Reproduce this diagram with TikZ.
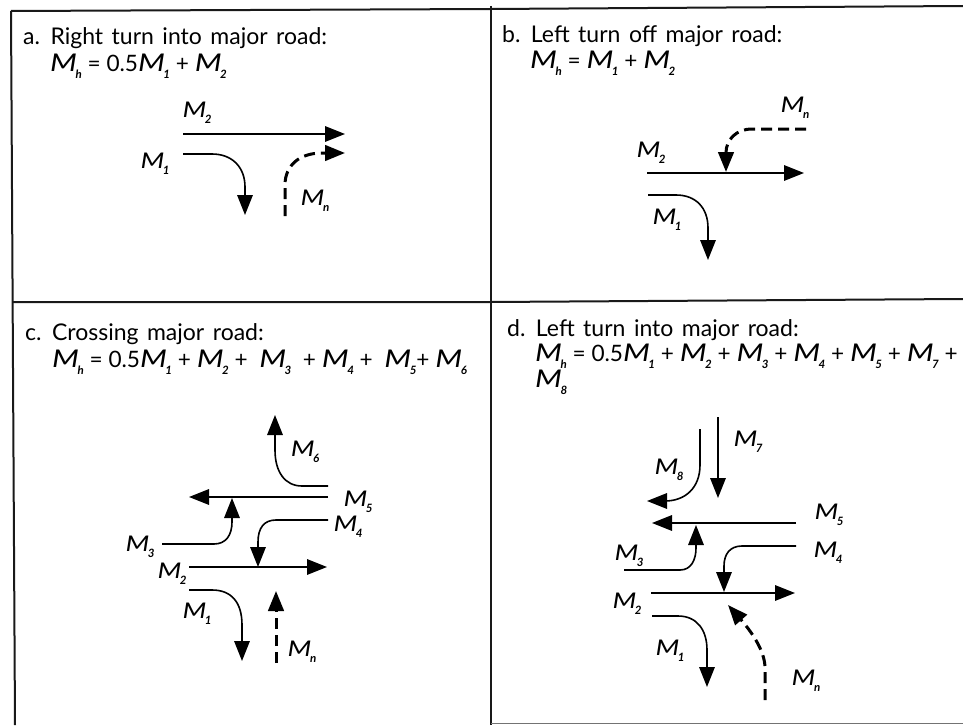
\documentclass[tikz,border=0pt]{standalone}
\usepackage{fontspec}
\setmainfont{Lato}
\usetikzlibrary{arrows.meta}
\newcommand{\Mv}[1]{\scalebox{1.38}[1.08]{\textit{M}}\kern-1.5pt\raisebox{-0.32em}{\fontsize{11.5}{12}\selectfont\textbf{\textit{#1}}}}
\newcommand{\wideword}{\spaceskip 8.5pt\relax}
\tikzset{
  x=1pt,y=-1pt,
  frameline/.style={line width=2pt,black!90},
  road/.style={line width=1.6pt,-{Triangle[length=20pt,width=15.5pt]}},
  newroad/.style={line width=3pt,dash pattern=on 11pt off 6pt,-{Triangle[length=20pt,width=15.5pt]}},
  lab/.style={inner sep=0pt,font=\fontsize{20}{22}\selectfont},
  txt/.style={inner sep=0pt,anchor=base west,font=\fontsize{22.6}{24}\selectfont},
  ttl/.style={inner sep=0pt,anchor=base west,font=\fontsize{23}{24}\selectfont},
}
\begin{document}
\begin{tikzpicture}
\useasboundingbox (0,0) rectangle (963,725);
% frame
\draw[frameline] (11,11) -- (490,9) -- (963,6);
\draw[frameline] (11,11) -- (15,725);
\draw[frameline] (491,6) -- (491,725);
\draw[frameline] (13,302) -- (490,302) -- (963,299);
\draw[line width=0.8pt,black!55] (491,723) -- (963,723);

% panel a
\node[ttl] (ta) at (23,45) {\wideword a. Right turn into major road:};
\node[txt] (ea) at (50,71) {\Mv{h} = 0.5\Mv{1} + \Mv{2}};
\node[lab] (a2) at (197,113) {\Mv{2}};
\node[lab] (a1) at (155,164) {\Mv{1}};
\node[lab] (an) at (315,201) {\Mv{n}};
\draw[road] (183,134) -- (345,134);
\draw[road] (183,154) -- (212,154) .. controls (232,154) and (245,167) .. (245,187) -- (245,215);
\draw[newroad] (285,216) -- (285,185) .. controls (285,165) and (300,153) .. (322,153) -- (345,153);

% panel b
\node[ttl] (tb) at (502,42) {\wideword b. Left turn off major road:};
\node[txt] (eb) at (530,68) {\Mv{h} = \Mv{1} + \Mv{2}};
\node[lab] (b2) at (651,153) {\Mv{2}};
\node[lab] (bn) at (795,108) {\Mv{n}};
\node[lab] (b1) at (667,220) {\Mv{1}};
\draw[road] (647,173) -- (804,173);
\draw[road] (648,195) -- (676,195) .. controls (696,195) and (708,208) .. (708,228) -- (708,260);
\draw[newroad] (806,129) -- (752,129) .. controls (736,129) and (726,140) .. (726,172);

% panel c
\node[ttl] (tc) at (25,340) {\wideword c. Crossing major road:};
\node[txt] (ec) at (52,367) {\Mv{h} = 0.5\Mv{1} + \Mv{2} +\ \ \Mv{3}\ \ + \Mv{4} +\ \ \Mv{5}+ \Mv{6}};
\node[lab] (c6) at (305,452) {\Mv{6}};
\node[lab] (c5) at (358,502) {\Mv{5}};
\node[lab] (c4) at (348,527) {\Mv{4}};
\node[lab] (c3) at (140,547) {\Mv{3}};
\node[lab] (c2) at (172,574) {\Mv{2}};
\node[lab] (c1) at (197,614) {\Mv{1}};
\node[lab] (cn) at (302,652) {\Mv{n}};
\draw[road] (328,486) -- (302,486) .. controls (285,486) and (275,472) .. (275,450) -- (275,415);
\draw[road] (328,497) -- (189,497);
\draw[road] (162,544) -- (214,544) .. controls (226,544) and (232,535) .. (232,522) -- (232,498);
\draw[road] (328,520) -- (276,520) .. controls (264,520) and (258,528) .. (258,542) -- (258,567);
\draw[road] (189,567) -- (327,567);
\draw[road] (189,590) -- (212,590) .. controls (232,590) and (242,603) .. (242,625) -- (242,661);
\draw[newroad] (276,663) -- (276,591);

% panel d
\node[ttl] (td) at (507,336) {\wideword d. Left turn into major road:};
\node[txt] (ed) at (535,361) {\Mv{h} = 0.5\Mv{1} + \Mv{2} + \Mv{3} + \Mv{4} + \Mv{5} + \Mv{7} +};
\node[txt] (ed2) at (535,387) {\Mv{8}};
\node[lab] (d7) at (748,442) {\Mv{7}};
\node[lab] (d8) at (669,470) {\Mv{8}};
\node[lab] (d5) at (829,515) {\Mv{5}};
\node[lab] (d4) at (828,553) {\Mv{4}};
\node[lab] (d3) at (629,556) {\Mv{3}};
\node[lab] (d2) at (627,604) {\Mv{2}};
\node[lab] (d1) at (670,651) {\Mv{1}};
\node[lab] (dn) at (806,681) {\Mv{n}};
\draw[road] (718,417) -- (718,498);
\draw[road] (700,429) -- (700,465) .. controls (700,488) and (685,501) .. (665,501) -- (647,501);
\draw[road] (796,523) -- (652,523);
\draw[road] (624,570) -- (680,570) .. controls (691,570) and (696,560) .. (696,548) -- (696,525);
\draw[road] (796,546) -- (742,546) .. controls (730,546) and (724,554) .. (724,566) -- (724,592);
\draw[road] (651,593) -- (795,593);
\draw[road] (652,616) -- (678,616) .. controls (697,616) and (707,630) .. (707,650) -- (707,687);
\draw[newroad] (765,700) -- (765,668) .. controls (765,650) and (750,630) .. (728,605);
\end{tikzpicture}
\end{document}
